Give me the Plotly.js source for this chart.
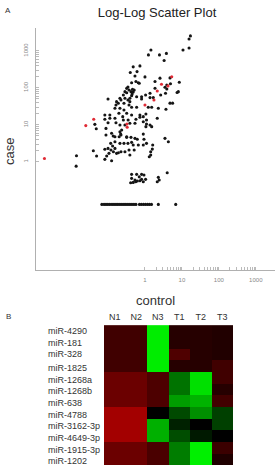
<!DOCTYPE html>
<html><head><meta charset="utf-8">
<script src="https://cdn.plot.ly/plotly-3.0.1.min.js"></script>
<style>html,body{margin:0;padding:0;background:#fff;}#chart{width:275px;height:468px;}</style>
</head><body><div id="chart"></div>
<script>
// ---- Panel A: log-log scatter (control vs case) ----
const controlBlack = [17,15.6,15.6,10.7,1.45,1.24,2.47,3.8,3.3,0.48,0.73,0.40,0.61,0.536,1.0,0.346,0.32,0.435,0.66,0.37,0.46,0.287,0.26,0.48,0.435,0.21,0.287,0.595,0.81,1.04,1.37,1.68,2.55,4.76,8.5,3.9,1.87,3.9,3.6,8.0,1.37,4.76,5.6,0.346,0.10,0.17,0.19,0.27,0.39,0.37,0.435,0.595,1.23,1.52,2.3,3.7,0.154,0.21,0.27,0.197,0.25,0.32,0.435,0.73,0.9,1.06,2.15,0.082,0.112,0.082,0.112,0.154,0.26,0.35,0.57,0.73,1.1,0.9,0.044,0.048,0.10,0.164,0.21,0.287,0.39,0.536,1.1,1.37,1.06,1.52,0.088,0.138,0.21,0.234,0.22,0.9,3.48,0.32,0.224,0.39,0.164,4.9,3.48,7.4,2.66,0.81,1.87,0.57,0.70,0.51,0.418,0.32,0.45,0.088,0.125,0.154,0.20,0.118,0.133,0.10,0.12,0.154,0.082,0.04,0.106,0.14,0.17,0.049,0.092,0.125,0.082,0.014,0.0137,0.21,0.224,0.27,0.346,0.32,0.418,0.435,0.48,0.536,0.62,0.66,0.94,1.1,0.9,1.62,1.58,1.43,1.31,1.43,4.3,0.37,0.287,0.224,0.19,0.39,0.51,0.154,
  0.435,0.595,0.81,0.94,0.70,0.435,0.536,0.81,1.04,0.41,0.56,0.73,0.9,2.3,2.43,2.15,4.0,0.48,0.62,
  0.068,0.078,0.088,0.099,0.112,0.128,0.145,0.164,0.185,0.21,0.238,0.27,0.305,0.346,0.392,0.444,0.503,0.57,0.71,0.80,0.91,1.03,1.17,1.32,1.50,2.3,6.8];
const caseBlack = [2550,2100,1200,1060,1060,780,780,855,550,370,393,260,275,210,198,105,97,138,138,87.5,92,79,64,77.6,61.5,52.5,52.5,57.5,57.5,64,71.5,54.5,183,186,142,120,98,93,71.5,79,54.5,38.5,38.5,47,50,42.3,38.3,38.3,42.3,34.4,29.8,29.8,29.8,29.8,28,26.3,28,28,25.2,20.5,16.6,20.5,18.4,18.4,16.6,19.6,15,18.4,18.4,14.1,15,15,13.5,13.5,14.1,16,13.5,12.1,10.3,7.8,11.4,11.4,9.9,9.9,11,11,10.5,9.9,8.9,8.9,5.3,4.97,6.5,7.2,5.6,5.6,4.3,4.76,47,52.5,34.4,129,104,75,64,50,148,148,133,87.5,79,74,68.4,8,5.9,4.76,4.76,3.15,2.66,2.3,2.08,2.3,2.17,1.99,1.69,1.87,1.69,1.43,1.43,1.06,1.16,1.45,0.76,3.15,5.3,3.15,3.15,4.57,4.57,3.35,2.83,4.3,4.05,2.83,4.05,3.15,2.83,2.83,2.2,1.87,1.37,1.52,3.48,2.08,1.87,1.87,1.75,1.52,2.08,3.48,
  0.456,0.456,0.456,0.436,0.39,0.355,0.32,0.334,0.334,0.27,0.287,0.305,0.287,0.378,0.32,0.287,0.503,0.276,0.30,
  0.07,0.07,0.07,0.07,0.07,0.07,0.07,0.07,0.07,0.07,0.07,0.07,0.07,0.07,0.07,0.07,0.07,0.07,0.07,0.07,0.07,0.07,0.07,0.07,0.07,0.07,0.07];
const controlRed = [5.3,2.8,4.2,2.15,1.75,1.0,0.025,0.041,0.0019,0.325,0.33];
const caseRed    = [200,125,113,82,47,34.4,9.5,14.1,1.22,10.5,8.6];

const logTickVals = [1,2,3,4,5,6,7,8,9,10,20,30,40,50,60,70,80,90,100,200,300,400,500,600,700,800,900,1000];
const logTickText = ['1','','','','','','','','','10','','','','','','','','','100','','','','','','','','','1000'];

// ---- Panel B: heatmap ----
const samples = ['N1','N2','N3','T1','T2','T3'];
const mirnas = ['miR-4290','miR-181','miR-328','miR-1825','miR-1268a','miR-1268b','miR-638','miR-4788','miR-3162-3p','miR-4649-3p','miR-1915-3p','miR-1202'];
const expr = [
  [0.25,0.25,-0.93,0.15,0.15,0.13],
  [0.25,0.25,-0.93,0.15,0.15,0.13],
  [0.25,0.25,-0.93,0.31,0.15,0.13],
  [0.25,0.25,-0.93,0.15,0.15,0.25],
  [0.42,0.42,0.30,-0.45,-0.88,0.25],
  [0.42,0.42,0.30,-0.45,-0.88,0.15],
  [0.42,0.42,0.30,-0.62,-0.70,0.26],
  [0.64,0.64,0.0,-0.29,-0.56,-0.25],
  [0.64,0.64,-0.69,-0.13,0.0,-0.25],
  [0.64,0.64,-0.69,-0.30,-0.10,0.0],
  [0.42,0.42,0.29,-0.49,-0.94,0.23],
  [0.42,0.42,0.29,-0.49,-0.94,0.12]
];

const W = 275, H = 468;
const font = 'Liberation Sans, Arial, Helvetica, sans-serif';

const traces = [
  {type:'scatter', mode:'markers', x:controlBlack, y:caseBlack, xaxis:'x', yaxis:'y',
   marker:{color:'#151515', size:3.1}, hoverinfo:'skip'},
  {type:'scatter', mode:'markers', x:controlRed, y:caseRed, xaxis:'x', yaxis:'y',
   marker:{color:'#e02a35', size:3.1}, hoverinfo:'skip'},
  {type:'heatmap', x:samples, y:mirnas, z:expr, xaxis:'x2', yaxis:'y2',
   zmin:-1, zmax:1, showscale:false, xgap:0, ygap:0,
   colorscale:[[0,'#00ff00'],[0.5,'#000000'],[1,'#ff0000']], hoverinfo:'skip'}
];

const annotations = [
  {text:'A', x:8/W, y:1-10/H, xref:'paper', yref:'paper', showarrow:false, xanchor:'center', yanchor:'middle', font:{size:8, color:'#333'}},
  {text:'B', x:8/W, y:1-316/H, xref:'paper', yref:'paper', showarrow:false, xanchor:'center', yanchor:'middle', font:{size:8, color:'#333'}},
  {text:'case', x:10/W, y:1-152/H, xref:'paper', yref:'paper', showarrow:false, textangle:-90, xanchor:'center', yanchor:'middle', font:{size:13, color:'#333'}},
  {text:'control', x:155/W, y:1-300/H, xref:'paper', yref:'paper', showarrow:false, xanchor:'center', yanchor:'middle', font:{size:13, color:'#333'}}
];
mirnas.forEach((m,i) => {
  annotations.push({text:m, x:46/W, y:m, xref:'paper', yref:'y2', showarrow:false, xanchor:'left', yanchor:'middle', yshift:(i>=3? -2:0), font:{size:9, color:'#333'}});
});

const axisCommon = {
  type:'log', showline:true, linecolor:'#b0b0b0', linewidth:1.2, mirror:false,
  ticks:'inside', ticklen:3, tickwidth:0.8, tickcolor:'#aaa', tickmode:'array',
  tickvals:logTickVals, ticktext:logTickText, tickfont:{size:6, color:'#888'},
  showgrid:false, zeroline:false, fixedrange:true
};

const layout = {
  width:W, height:H, margin:{l:0,r:0,t:0,b:0}, paper_bgcolor:'#fff', plot_bgcolor:'#fff',
  font:{family:font, color:'#333'}, showlegend:false,
  title:{text:'Log-Log Scatter Plot', x:157/W, xanchor:'center', y:1-12.7/H, yanchor:'middle', font:{size:13, color:'#222', family:font}},
  xaxis:Object.assign({}, axisCommon, {domain:[36/W,1], range:[-2.95,3.52], anchor:'y', ticklabelstandoff:4}),
  yaxis:Object.assign({}, axisCommon, {domain:[1-270/H, 1-28/H], range:[-2.93,3.62], anchor:'x', tickangle:-90, ticklabelstandoff:4}),
  xaxis2:{domain:[104/W, 233/W], anchor:'y2', side:'top', showline:false, ticks:'', showgrid:false, zeroline:false,
          tickfont:{size:9, color:'#333'}, fixedrange:true, ticklabelstandoff:1},
  yaxis2:{domain:[3/H, 144/H], anchor:'x2', autorange:'reversed', showticklabels:false, ticks:'', showgrid:false, zeroline:false, showline:false, fixedrange:true},
  annotations:annotations
};

Plotly.newPlot('chart', traces, layout, {staticPlot:true, displayModeBar:false});
</script></body></html>
